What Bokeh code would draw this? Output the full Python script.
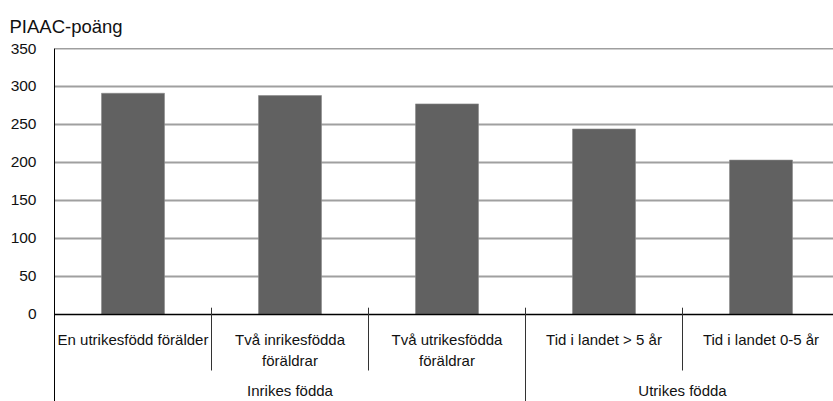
from bokeh.plotting import figure
from bokeh.models import Range1d, FixedTicker
from bokeh.core.properties import value
from bokeh.embed import file_html
from bokeh.resources import INLINE

# ---- data ----
categories = ["En utrikesfödd förälder", "Två inrikesfödda\nföräldrar",
              "Två utrikesfödda\nföräldrar", "Tid i landet > 5 år", "Tid i landet 0-5 år"]
scores = [291, 288, 277, 244, 203]
groups = ["Inrikes födda", "Utrikes födda"]
group_sizes = [3, 2]
y_ticks = [0, 50, 100, 150, 200, 250, 300, 350]
y_title = "PIAAC-poäng"

FONT = "Liberation Sans"
TXT = "#111111"

n = len(categories)
xs = [i + 0.5 for i in range(n)]
CAT_PX = 157.0
W, H = 833, 401
LEFT, TOP = 54, 48
ZERO_PX = 265.7                 # pixels from frame top to value 0
upt = 350 / ZERO_PX             # data units per pixel
y_bottom = -(H - TOP - ZERO_PX) * upt

p = figure(width=W, height=H, output_backend="svg", toolbar_location=None,
           x_range=Range1d(0, (W - LEFT) / CAT_PX), y_range=Range1d(y_bottom, 350),
           x_axis_location=None, min_border_left=LEFT, min_border_top=TOP,
           min_border_bottom=0, min_border_right=0)
p.outline_line_color = None
p.xgrid.visible = False
p.ygrid.visible = False

p.title.text = y_title
p.title.align = "left"
p.title.offset = -45
p.title.text_font = FONT
p.title.text_font_size = "18.5px"
p.title.text_font_style = "normal"
p.title.text_color = TXT
p.title.standoff = 24

# y axis
ax = p.yaxis[0]
ax.ticker = FixedTicker(ticks=y_ticks)
ax.major_tick_line_color = None
ax.minor_tick_line_color = None
ax.axis_line_color = "#000000"
ax.axis_line_width = 1
ax.major_label_standoff = 12
ax.major_label_text_font = FONT
ax.major_label_text_font_size = "15.5px"
ax.major_label_text_color = TXT

# gridlines (excluding 0 and top)
p.hspan(y=[t for t in y_ticks if 0 < t < max(y_ticks)], line_color="#a0a0a0", line_width=2)
p.hspan(y=[max(y_ticks)], line_color="#404040", line_width=1.6)

# bars
p.vbar(x=xs, top=scores, bottom=0, width=63 / CAT_PX, fill_color="#616161",
       line_color="#8a8a8a", line_width=0.6)

# x axis base line
p.hspan(y=[0], line_color="#000000", line_width=1.3)

# category / group separators
bounds = []
acc = 0
for g in group_sizes:
    acc += g
    bounds.append(acc)
sep_x = list(range(1, n))
cat_sep = [x for x in sep_x if x not in bounds]
grp_sep = [x for x in sep_x if x in bounds]
p.segment(x0=cat_sep, y0=[6.5 * upt] * len(cat_sep), x1=cat_sep, y1=[-56.3 * upt] * len(cat_sep),
          line_color="#333333", line_width=1)
p.segment(x0=grp_sep, y0=[6.5 * upt] * len(grp_sep), x1=grp_sep, y1=[y_bottom] * len(grp_sep),
          line_color="#333333", line_width=1)

# category labels
l1x, l1t, l2x, l2t = [], [], [], []
for x, c in zip(xs, categories):
    parts = c.split("\n")
    l1x.append(x); l1t.append(parts[0])
    if len(parts) > 1:
        l2x.append(x); l2t.append(parts[1])
p.text(x=l1x, y=[-24.8 * upt] * len(l1x), text=l1t, text_align="center",
       text_baseline="alphabetic", text_font=value(FONT), text_font_size="15px",
       text_color=TXT)
p.text(x=l2x, y=[-46.5 * upt] * len(l2x), text=l2t, text_align="center",
       text_baseline="alphabetic", text_font=value(FONT), text_font_size="15px",
       text_color=TXT)

# group labels
gx = []
start = 0
for g in group_sizes:
    gx.append(start + g / 2)
    start += g
p.text(x=gx, y=[-76.0 * upt] * len(gx), text=groups, text_align="center",
       text_baseline="alphabetic", text_font=value(FONT), text_font_size="15px",
       text_color=TXT)

open("out.html", "w").write(file_html(p, INLINE))
